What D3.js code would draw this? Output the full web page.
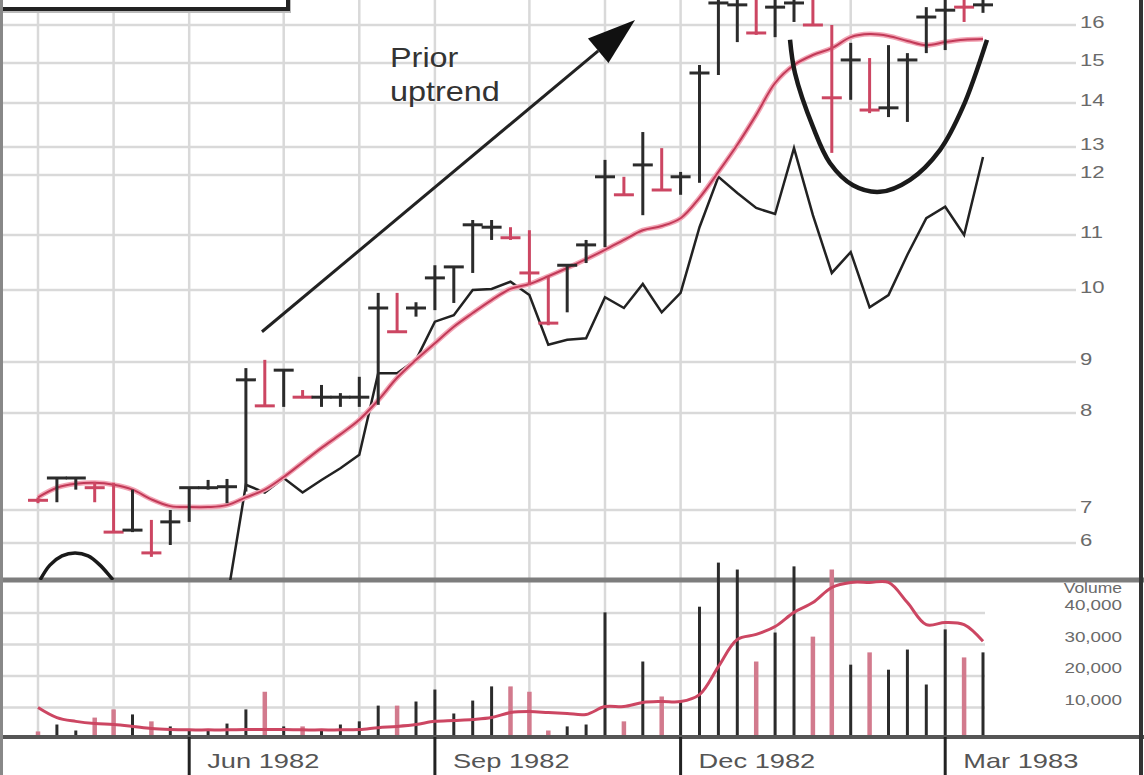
<!DOCTYPE html>
<html><head><meta charset="utf-8">
<script src="https://cdn.jsdelivr.net/npm/d3@7"></script>
<style>
body{margin:0;background:#fff;}
svg{display:block;}
text{font-family:"Liberation Sans",Arial,sans-serif;}
</style>
</head><body>
<svg id="c" width="1144" height="775"></svg>
<script>
// ---------- DATA (weekly bars, index 0..50) ----------
const highs  = [7.13,7.33,7.33,7.29,7.28,7.21,6.70,7.00,7.23,7.31,7.32,8.88,9.03,8.84,8.45,8.55,8.39,8.71,9.96,9.96,9.83,10.45,10.42,11.25,11.25,11.13,11.08,10.24,10.45,10.91,12.54,11.97,13.34,12.96,12.11,14.95,16.92,16.87,16.79,16.87,16.82,16.79,16.00,15.53,15.13,15.47,15.26,16.47,16.79,16.79,16.87];
const lows   = [7.07,7.08,7.21,7.08,6.33,6.33,5.58,5.94,6.64,7.21,7.07,7.19,8.12,8.12,8.29,8.12,8.12,8.12,8.16,9.42,9.63,9.72,9.82,10.31,10.91,10.91,10.09,9.51,9.69,10.49,10.78,11.67,11.33,11.75,11.67,11.87,14.70,15.55,15.74,15.68,16.08,16.00,12.79,14.08,13.77,13.68,13.57,15.26,15.34,16.08,16.32];
const closes = [7.10,7.33,7.33,7.23,6.33,6.39,5.70,6.64,7.23,7.23,7.24,8.65,8.14,8.84,8.31,8.31,8.31,8.31,9.75,9.42,9.75,10.22,10.42,11.17,11.13,10.95,10.31,9.54,10.45,10.82,11.97,11.67,12.36,11.75,11.97,14.75,16.58,16.53,15.79,16.47,16.58,16.00,14.13,15.08,13.84,13.89,15.08,16.21,16.39,16.47,16.53];
const weekDir = ["d","u","u","d","d","u","d","u","u","u","u","u","d","u","d","u","u","u","u","d","u","u","u","u","u","d","d","d","u","u","u","d","u","d","u","u","u","u","d","u","u","d","d","u","d","u","u","u","u","d","u"];
const volumes = [2400,4600,2700,6800,9400,7800,5600,4000,3000,2700,4900,9400,15000,4000,4000,2700,4600,5600,10600,10600,11900,15700,8100,12200,16700,16700,15000,2700,4000,4600,40200,5600,24600,13500,11900,42000,56000,53800,24600,33800,54800,32500,53800,23600,27500,22000,28400,17300,34800,25900,27500];
const volumeMA = [10000,6800,5600,4900,4600,4000,3300,3000,2900,2900,2900,3000,3000,3000,2900,2900,2900,3000,3600,4000,4600,5600,5900,6200,6800,8400,8700,8400,8100,7800,10300,10300,11600,11900,11900,14100,23000,31600,33200,35700,40200,43300,48100,49700,49700,49700,43300,36300,37000,36300,31000];
const priceMA = [7.13,7.23,7.27,7.28,7.26,7.21,7.11,7.04,7.03,7.03,7.05,7.13,7.21,7.34,7.49,7.64,7.78,7.93,8.25,8.69,9.03,9.26,9.49,9.68,9.86,10.02,10.11,10.25,10.40,10.56,10.73,10.91,11.08,11.15,11.28,11.62,12.11,13.05,13.73,14.50,14.95,15.21,15.39,15.68,15.76,15.71,15.58,15.47,15.55,15.61,15.63];
const rsStartWeek = 10;
const rsLine = [4.27,7.26,7.18,7.33,7.18,7.31,7.43,7.57,8.78,8.78,9.03,9.56,9.65,10.00,10.02,10.15,9.93,9.24,9.31,9.33,9.90,9.75,10.11,9.69,9.96,11.13,11.97,11.70,11.45,11.35,12.96,11.33,10.31,10.69,9.76,9.93,10.64,11.28,11.47,11.00,12.64];

const priceTicks  = [6,7,8,9,10,11,12,13,14,15,16];
const volumeTicks = [10000,20000,30000,40000];
const monthGridWeeks = [0,4,8,13,17,21,26,30,34,39,43,48];
const dateTickWeeks  = [8,21,34,48];
const dateTickLabels = ["Jun 1982","Sep 1982","Dec 1982","Mar 1983"];

// annotations (week, price)
const cupCurve = [[39.79,15.61],[40.05,14.75],[41.01,13.45],[41.90,12.43],[43.12,11.83],[44.55,11.72],[46.14,11.92],[47.72,12.89],[48.94,13.91],[50.21,15.61]];
const oldArc   = [[0.11,4.88],[0.63,5.33],[1.27,5.61],[1.96,5.70],[2.65,5.61],[3.28,5.33],[3.97,4.88]];
const trendArrow = [[11.85,9.42],[31.59,16.13]];
const trendText = ["Prior","uptrend"];

// ---------- SCALES ----------
const svg = d3.select("#c");
const x  = d3.scaleLinear().domain([0,50]).range([38,983]);
const y  = d3.scaleLinear().domain(priceTicks).range([543,510,413,362,290,235,175,147,103,63,25]);
const yv = d3.scaleLinear().domain([0,40000]).range([739,613]);

const RED="#cc4662", RED_V="#d27a8d", BLK="#2b2b2b", GRID="#d9d9d9", LBL="#6a6a6a";
const PANEL_BOT=580, VOL_BOT=737;

svg.append("rect").attr("width",1144).attr("height",775).attr("fill","#fff");

const defs = svg.append("defs");
defs.append("clipPath").attr("id","pclip").append("rect").attr("x",0).attr("y",0).attr("width",1140).attr("height",PANEL_BOT);

// grid: price horizontal
svg.append("g").selectAll("line").data(priceTicks).join("line")
  .attr("x1",0).attr("x2",1076).attr("y1",d=>y(d)).attr("y2",d=>y(d))
  .attr("stroke",GRID).attr("stroke-width",2.5);
// grid: vertical months
svg.append("g").selectAll("line").data(monthGridWeeks).join("line")
  .attr("x1",d=>x(d)).attr("x2",d=>x(d)).attr("y1",0).attr("y2",VOL_BOT)
  .attr("stroke",GRID).attr("stroke-width",2.5);
// grid: volume horizontal
svg.append("g").selectAll("line").data(volumeTicks).join("line")
  .attr("x1",0).attr("x2",985).attr("y1",d=>yv(d)).attr("y2",d=>yv(d))
  .attr("stroke",GRID).attr("stroke-width",2.5);

// price labels
const pl = svg.append("g").attr("fill",LBL).attr("font-size",17);
pl.selectAll("g").data(priceTicks).join("g")
  .attr("transform",d=>`translate(1080,${y(d)+3}) scale(1.3,1)`)
  .append("text").text(d=>d);

// volume labels
const vl = svg.append("g").attr("fill",LBL).attr("font-size",14.5);
vl.selectAll("g").data(volumeTicks).join("g")
  .attr("transform",d=>`translate(1122,${yv(d)-3}) scale(1.3,1)`)
  .append("text").attr("text-anchor","end").text(d=>d3.format(",")(d));
svg.append("g").attr("transform","translate(1122,593) scale(1.25,1)")
  .append("text").attr("text-anchor","end").attr("fill",LBL).attr("font-size",14).text("Volume");

// separator
svg.append("line").attr("x1",0).attr("x2",1144).attr("y1",PANEL_BOT).attr("y2",PANEL_BOT).attr("stroke","#7d7d7d").attr("stroke-width",5);

// volume bars
svg.append("g").selectAll("line").data(volumes).join("line")
  .attr("x1",(d,i)=>x(i)).attr("x2",(d,i)=>x(i))
  .attr("y1",yv(0)).attr("y2",d=>yv(d))
  .attr("stroke",(d,i)=>weekDir[i]==="d"?RED_V:BLK)
  .attr("stroke-width",(d,i)=>weekDir[i]==="d"?4.5:3);

// volume MA
svg.append("path").datum(volumeMA)
  .attr("d",d3.line().x((d,i)=>x(i)).y(d=>yv(d)).curve(d3.curveCatmullRom))
  .attr("fill","none").attr("stroke",RED).attr("stroke-width",3);

svg.append("line").attr("x1",0).attr("x2",1144).attr("y1",VOL_BOT).attr("y2",VOL_BOT).attr("stroke","#555").attr("stroke-width",4);

// date ticks
svg.append("g").selectAll("line").data(dateTickWeeks).join("line")
  .attr("x1",d=>x(d)).attr("x2",d=>x(d)).attr("y1",VOL_BOT).attr("y2",775)
  .attr("stroke","#222").attr("stroke-width",3);
svg.append("g").attr("fill","#555").attr("font-size",20.5)
  .selectAll("g").data(dateTickWeeks).join("g")
  .attr("transform",d=>`translate(${x(d)+18},768) scale(1.33,1)`)
  .append("text").text((d,i)=>dateTickLabels[i]);

// ---------- price panel ----------
const pp = svg.append("g").attr("clip-path","url(#pclip)");

// relative strength line
pp.append("path").datum(rsLine)
  .attr("d",d3.line().x((d,i)=>x(i+rsStartWeek)).y(d=>y(d)))
  .attr("fill","none").attr("stroke","#222").attr("stroke-width",2.5).attr("stroke-linejoin","miter");

// moving average
pp.append("path").datum(priceMA)
  .attr("d",d3.line().x((d,i)=>x(i)).y(d=>y(d)).curve(d3.curveCatmullRom))
  .attr("fill","none").attr("stroke","#f2a5b5").attr("stroke-width",5);
pp.append("path").datum(priceMA)
  .attr("d",d3.line().x((d,i)=>x(i)).y(d=>y(d)).curve(d3.curveCatmullRom))
  .attr("fill","none").attr("stroke","#c23a58").attr("stroke-width",2);

// price bars
const bars = pp.append("g").selectAll("g").data(closes).join("g")
  .attr("stroke",(d,i)=>weekDir[i]==="d"?RED:BLK).attr("stroke-width",3);
bars.append("line").attr("x1",(d,i)=>x(i)).attr("x2",(d,i)=>x(i))
  .attr("y1",(d,i)=>y(highs[i])).attr("y2",(d,i)=>y(lows[i]));
bars.append("line").attr("x1",(d,i)=>x(i)-10).attr("x2",(d,i)=>x(i)+10)
  .attr("y1",d=>y(d)).attr("y2",d=>y(d));

// cup & old arc
const cl = d3.line().x(d=>x(d[0])).y(d=>y(d[1])).curve(d3.curveCatmullRom);
pp.append("path").datum(cupCurve).attr("d",cl).attr("fill","none").attr("stroke","#1a1a1a").attr("stroke-width",4.5);
pp.append("path").datum(oldArc).attr("d",cl).attr("fill","none").attr("stroke","#1a1a1a").attr("stroke-width",3.5);

// arrow
const [a0,a1] = trendArrow;
const ax0=x(a0[0]), ay0=y(a0[1]), ax1=x(a1[0]), ay1=y(a1[1]);
const ang = Math.atan2(ay1-ay0, ax1-ax0);
const hl=48, hw=16;
const bx=ax1-hl*Math.cos(ang), by=ay1-hl*Math.sin(ang);
pp.append("line").attr("x1",ax0).attr("y1",ay0).attr("x2",bx).attr("y2",by).attr("stroke","#222").attr("stroke-width",3);
pp.append("path").attr("d",`M${ax1},${ay1}L${bx+hw*Math.sin(ang)},${by-hw*Math.cos(ang)}L${bx-hw*Math.sin(ang)},${by+hw*Math.cos(ang)}Z`).attr("fill","#111");

const tt = svg.append("g").attr("fill","#333").attr("font-size",27);
tt.append("g").attr("transform","translate(390,67) scale(1.2,1)").append("text").text(trendText[0]);
tt.append("g").attr("transform","translate(390,101) scale(1.2,1)").append("text").text(trendText[1]);

// top-left legend box (cut off)
svg.append("rect").attr("x",-10).attr("y",-20).attr("width",301).attr("height",33).attr("fill","#bbb");
svg.append("rect").attr("x",-10).attr("y",-20).attr("width",298).attr("height",29).attr("fill","#fff").attr("stroke","#222").attr("stroke-width",4);

// borders
svg.append("line").attr("x1",1.5).attr("x2",1.5).attr("y1",0).attr("y2",775).attr("stroke","#888").attr("stroke-width",3);
svg.append("line").attr("x1",1141).attr("x2",1141).attr("y1",0).attr("y2",775).attr("stroke","#333").attr("stroke-width",4);
</script>
</body></html>
